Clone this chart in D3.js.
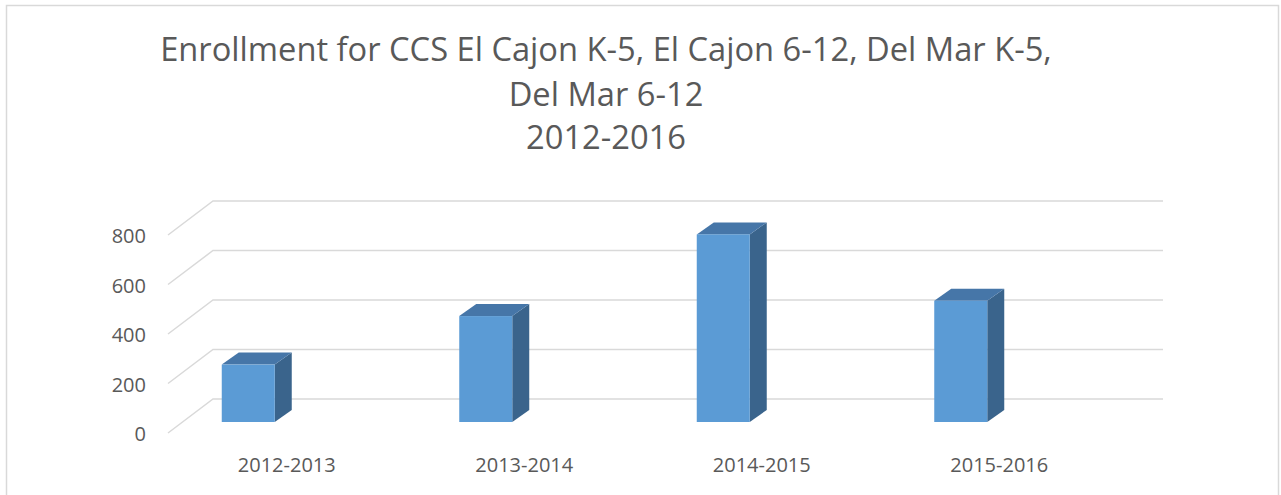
<!DOCTYPE html>
<html>
<head>
<meta charset="utf-8">
<script src="https://cdn.jsdelivr.net/npm/d3@7"></script>
<style>
  html, body { margin: 0; padding: 0; background: #fff; }
  svg { display: block; }
</style>
</head>
<body>
<div id="chart"></div>
<script>
// data
const categories = ["2012-2013", "2013-2014", "2014-2015", "2015-2016"];
const enrollment = [232, 428, 758, 490];
const yTicks = [0, 200, 400, 600, 800];
const titleLines = ["Enrollment for CCS El Cajon K-5, El Cajon 6-12, Del Mar K-5,", "Del Mar 6-12", "2012-2016"];

const W = 1281, H = 495;
const FONT = "'Open Sans', 'Noto Sans', sans-serif";

const COLORS = {
  grid: "#d9d9d9",
  text: "#595959",
  front: "#5b9bd5",
  top: "#4676a8",
  side: "#3a648c",
  border: "#d9d9d9"
};

// 3d-ish layout: back wall, and the floor front edge is offset down-left
const BACK_LEFT = 213, BACK_RIGHT = 1163;
const DEPTH_DX = -45, DEPTH_DY = 34;
const BAR_DX = 17, BAR_DY = -12;   // bar depth
const BAR_W = 53;
const BAR_BASE = 422;              // bottom of bar front faces

const svg = d3.select("#chart").append("svg")
  .attr("width", W).attr("height", H);

svg.append("rect")
  .attr("x", 6.5).attr("y", 5.5)
  .attr("width", 1272).attr("height", 500)
  .attr("fill", "#fff")
  .attr("stroke", COLORS.border)
  .attr("stroke-width", 1.5);

const yBack = d3.scaleLinear().domain([0, 800]).range([399, 201]);
const xFront = d3.scaleBand().domain(categories)
  .range([BACK_LEFT + DEPTH_DX, BACK_RIGHT + DEPTH_DX]);

//gridlines: diagonal on side wall + horizontal on back wall
const grid = svg.append("g")
  .attr("fill", "none")
  .attr("stroke", COLORS.grid)
  .attr("stroke-width", 1.5);

grid.selectAll("path")
  .data(yTicks)
  .join("path")
  .attr("d", d => {
    const y = yBack(d);
    return `M${BACK_LEFT + DEPTH_DX},${y + DEPTH_DY}L${BACK_LEFT},${y}L${BACK_RIGHT},${y}`;
  });

//y labels
svg.append("g")
  .attr("font-family", FONT)
  .attr("font-size", 20)
  .attr("fill", COLORS.text)
  .attr("text-anchor", "end")
  .selectAll("text")
  .data(yTicks)
  .join("text")
  .attr("x", 146)
  .attr("y", d => yBack(d) + DEPTH_DY + 1)
  .attr("dy", "0.35em")
  .text(d => d);

//bars
const barH = v => yBack(0) - yBack(v);
const bars = svg.append("g")
  .selectAll("g")
  .data(categories.map((c, i) => ({ cat: c, value: enrollment[i] })))
  .join("g");

bars.each(function(d) {
  const g = d3.select(this);
  const x0 = xFront(d.cat) + xFront.bandwidth() / 2 - 65;
  const x1 = x0 + BAR_W;
  const yt = BAR_BASE - barH(d.value);
  const yb = BAR_BASE;
  // side
  g.append("path")
    .attr("fill", COLORS.side)
    .attr("d", `M${x1},${yb}L${x1 + BAR_DX},${yb + BAR_DY}L${x1 + BAR_DX},${yt + BAR_DY}L${x1},${yt}Z`);
  // top
  g.append("path")
    .attr("fill", COLORS.top)
    .attr("d", `M${x0},${yt}L${x0 + BAR_DX},${yt + BAR_DY}L${x1 + BAR_DX},${yt + BAR_DY}L${x1},${yt}Z`);
  // front
  g.append("rect")
    .attr("x", x0).attr("y", yt)
    .attr("width", BAR_W).attr("height", yb - yt)
    .attr("fill", COLORS.front);
});

//category labels
svg.append("g")
  .attr("font-family", FONT)
  .attr("font-size", 20)
  .attr("fill", COLORS.text)
  .attr("text-anchor", "middle")
  .selectAll("text")
  .data(categories)
  .join("text")
  .attr("x", d => xFront(d) + xFront.bandwidth() / 2)
  .attr("y", 472)
  .text(d => d);

//title
const title = svg.append("g")
  .attr("font-family", FONT)
  .attr("fill", COLORS.text)
  .attr("text-anchor", "middle");

const titleBase = [61, 106, 149];
const tLines = title.selectAll("text")
  .data(titleLines)
  .join("text")
  .attr("x", 606)
  .attr("y", (d, i) => titleBase[i])
  .attr("font-size", 30)
  .text(d => d);

//fit the long first line to the width it has in the original (~892px)
const firstW = tLines.node().getComputedTextLength();
const fs = Math.min(33, 30 * 892 / firstW);
tLines.attr("font-size", fs);
</script>
</body>
</html>
